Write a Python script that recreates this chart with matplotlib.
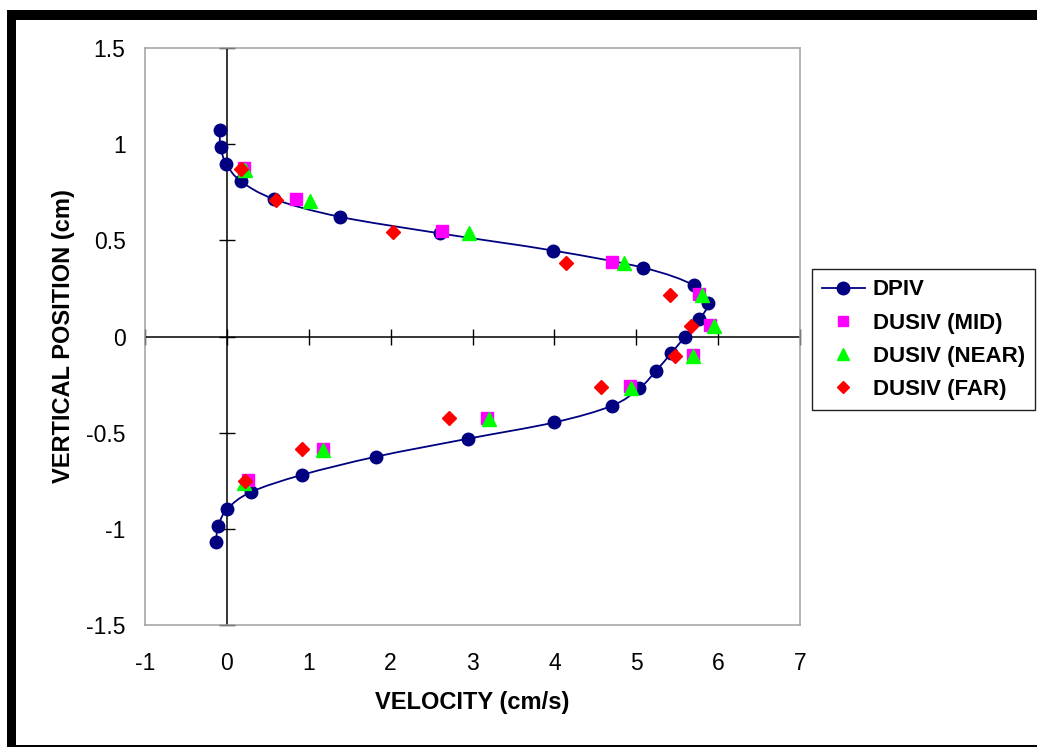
import numpy as np
import matplotlib
matplotlib.use("Agg")
import matplotlib.pyplot as plt
from matplotlib.path import Path
from matplotlib.patches import PathPatch, Rectangle
from matplotlib.lines import Line2D

plt.rcParams["font.family"] = ["Liberation Sans", "DejaVu Sans"]
plt.rcParams["axes.unicode_minus"] = False

# DPIV profile (top to bottom)
dpiv_y = [1.073, 0.983, 0.896, 0.808, 0.714, 0.622, 0.536, 0.446, 0.357, 0.266,
          0.175, 0.089, -0.001, -0.087, -0.178, -0.269, -0.360, -0.446, -0.531,
          -0.624, -0.719, -0.808, -0.896, -0.983, -1.069]
dpiv_v = [-0.089, -0.077, -0.007, 0.167, 0.574, 1.376, 2.597, 3.989, 5.088, 5.702,
          5.873, 5.772, 5.597, 5.426, 5.243, 5.039, 4.701, 4.001, 2.943,
          1.824, 0.916, 0.293, 0.005, -0.105, -0.134]

# DUSIV transducer positions
mid_y = [0.877, 0.712, 0.548, 0.385, 0.222, 0.060, -0.096, -0.257, -0.422, -0.584, -0.745]
mid_v = [0.204, 0.847, 2.625, 4.706, 5.772, 5.906, 5.690, 4.926, 3.175, 1.172, 0.256]

near_y = [0.866, 0.706, 0.539, 0.380, 0.214, 0.055, -0.101, -0.266, -0.429, -0.590, -0.759]
near_v = [0.216, 1.018, 2.963, 4.856, 5.804, 5.955, 5.699, 4.939, 3.196, 1.172, 0.204]

far_y = [0.870, 0.709, 0.545, 0.384, 0.217, 0.055, -0.100, -0.261, -0.425, -0.586, -0.749]
far_v = [0.176, 0.603, 2.035, 4.136, 5.414, 5.670, 5.479, 4.571, 2.719, 0.921, 0.220]

x_ticks = [-1, 0, 1, 2, 3, 4, 5, 6, 7]
y_ticks = [-1.5, -1, -0.5, 0, 0.5, 1, 1.5]

NAVY = "#000080"


def smooth_path(xs, ys):
    """Catmull-Rom style bezier path through the points (spreadsheet 'smoothed line')."""
    pts = np.column_stack([xs, ys])
    ext = np.vstack([pts[0], pts, pts[-1]])
    verts = [pts[0]]
    codes = [Path.MOVETO]
    for i in range(1, len(ext) - 2):
        p0, p1, p2, p3 = ext[i - 1], ext[i], ext[i + 1], ext[i + 2]
        c1 = p1 + (p2 - p0) / 6.0
        c2 = p2 - (p3 - p1) / 6.0
        verts += [c1, c2, p2]
        codes += [Path.CURVE4] * 3
    return Path(verts, codes)


fig = plt.figure(figsize=(10.37, 7.48), dpi=100)
W, H = 1037.0, 748.0

# black frame around the sheet
fig.add_artist(Rectangle((7 / W, 1 - 19.5 / H), 1 - 7 / W, 9.5 / H,
                         transform=fig.transFigure, color="black", lw=0))
fig.add_artist(Rectangle((7 / W, 1.5 / H), 9 / W, 1 - 21 / H,
                         transform=fig.transFigure, color="black", lw=0))
fig.add_artist(Rectangle((7 / W, 1.0 / H), 1 - 7 / W, 1.8 / H,
                         transform=fig.transFigure, color="black", lw=0))

ax = fig.add_axes([145 / W, 1 - 625.3 / H, 655 / W, 577.6 / H])
ax.set_xlim(-1, 7)
ax.set_ylim(-1.5, 1.5)

for s in ax.spines.values():
    s.set_color("#a0a0a0")
    s.set_linewidth(1.1)

# axes crossing at zero with cross tick marks
ax.axhline(0, color="black", lw=1.1, zorder=1)
ax.axvline(0, color="black", lw=1.1, zorder=1)
ax.plot(x_ticks, np.zeros(len(x_ticks)), ls="none", marker="|", ms=11,
        mew=1.0, color="black", zorder=1, clip_on=False)
ax.plot(np.zeros(len(y_ticks)), y_ticks, ls="none", marker="_", ms=11,
        mew=1.0, color="black", zorder=1, clip_on=False)

ax.set_xticks(x_ticks)
ax.set_yticks(y_ticks)
ax.set_xticklabels([f"{v:g}" for v in x_ticks])
ax.set_yticklabels([f"{v:g}" for v in y_ticks])
ax.tick_params(axis="x", length=0, pad=19, labelsize=16.5)
ax.tick_params(axis="y", length=0, pad=14, labelsize=16.5)

ax.set_xlabel("VELOCITY (cm/s)", fontsize=17, fontweight="bold", labelpad=11.5)
ax.set_ylabel("VERTICAL POSITION (cm)", fontsize=17, fontweight="bold", labelpad=8)

# DPIV smoothed line with markers
ax.add_patch(PathPatch(smooth_path(dpiv_v, dpiv_y), fill=False, edgecolor=NAVY,
                       lw=1.3, zorder=2))
ax.plot(dpiv_v, dpiv_y, ls="none", marker="o", ms=9, color=NAVY, zorder=3)

ax.plot(mid_v, mid_y, ls="none", marker="s", ms=8, color="#FF00FF", zorder=4)
ax.plot(near_v, near_y, ls="none", marker="^", ms=9.5, color="#00FF00", zorder=5)
ax.plot(far_v, far_y, ls="none", marker="D", ms=7, color="#FF0000", zorder=6)

handles = [
    Line2D([], [], color=NAVY, lw=1.3, marker="o", ms=9),
    Line2D([], [], ls="none", marker="s", ms=7.5, color="#FF00FF"),
    Line2D([], [], ls="none", marker="^", ms=9, color="#00FF00"),
    Line2D([], [], ls="none", marker="D", ms=6.5, color="#FF0000"),
]
labels = ["DPIV", "DUSIV (MID)", "DUSIV (NEAR)", "DUSIV (FAR)"]
leg = fig.legend(handles, labels, loc="upper left",
                 bbox_to_anchor=(811.7 / W, 1 - 269.3 / H),
                 bbox_transform=fig.transFigure, frameon=True, fancybox=False,
                 edgecolor="#202020", framealpha=1, borderaxespad=0,
                 borderpad=0.45, handlelength=1.95, handletextpad=0.35,
                 labelspacing=0.55, prop={"size": 16, "weight": "bold"})
leg.get_frame().set_linewidth(1.0)

fig.savefig("out.png", dpi=100)
